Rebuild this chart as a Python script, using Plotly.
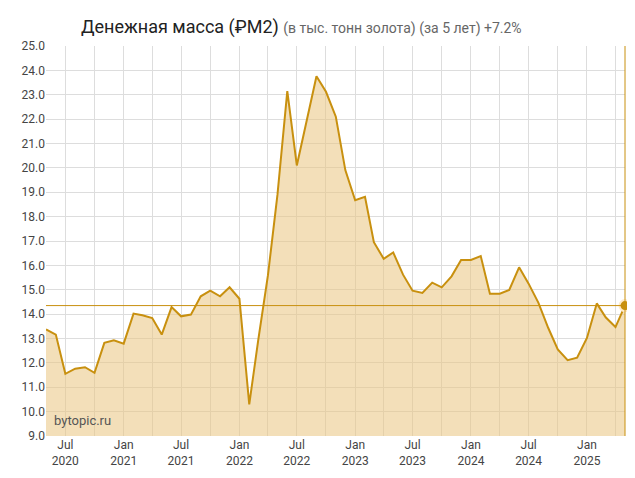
import pandas as pd
import plotly.graph_objects as go

# monthly values, May 2020 .. May 2025 (thousand tonnes of gold)
months = pd.date_range('2020-05-01', '2025-05-01', freq='MS')
values = [13.37, 13.16, 11.55, 11.76, 11.82, 11.59, 12.82, 12.93,
          12.79, 14.02, 13.95, 13.84, 13.16, 14.29, 13.91, 13.98, 14.73, 14.96, 14.73, 15.10,
          14.63, 10.30, 12.90, 15.60, 18.90, 23.15, 20.10, 22.00, 23.76, 23.12, 22.10, 19.91,
          18.67, 18.81, 16.95, 16.27, 16.53, 15.62, 14.96, 14.87, 15.29, 15.10, 15.55, 16.22,
          16.22, 16.38, 14.84, 14.84, 14.99, 15.92, 15.25, 14.46, 13.43, 12.55, 12.11, 12.21,
          13.02, 14.44, 13.87, 13.47, 14.35]
tick_dates = pd.date_range('2020-07-01', '2025-01-01', freq='6MS')
tick_text = [f"{'Jan' if d.month == 1 else 'Jul'}<br>{d.year}" for d in tick_dates]
y_ticks = [9 + i for i in range(17)]

line_color = '#c8900f'

fig = go.Figure()
fig.add_trace(go.Scatter(x=months, y=values, mode='lines', fill='tozeroy',
                         line=dict(color=line_color, width=2),
                         fillcolor='rgba(233,196,128,0.55)', hoverinfo='x+y'))
fig.add_hline(y=values[-1], line=dict(color=line_color, width=1))
fig.add_shape(type='line', xref='paper', yref='paper', x0=1, x1=1, y0=0, y1=1,
              line=dict(color=line_color, width=1))
fig.add_trace(go.Scatter(x=[months[-1]], y=[values[-1]], mode='markers', cliponaxis=False,
                         marker=dict(size=11, color=line_color,
                                     line=dict(color='rgba(255,235,200,1)', width=2))))

fig.update_layout(
    width=635, height=478, showlegend=False,
    margin=dict(l=38, r=18, t=38, b=50),
    plot_bgcolor='white', paper_bgcolor='white',
    font=dict(family='Roboto, Arial', color='#333'),
    title=dict(text="Денежная масса (₽M2) <span style='font-size:14px;color:#666'>(в тыс. тонн золота) (за 5 лет) +7.2%</span>",
               x=0.115, xanchor='left', y=0.975, font=dict(size=18, color='#222')),
    annotations=[dict(text='bytopic.ru', xref='paper', yref='paper', x=0.01, y=0.015,
                      xanchor='left', yanchor='bottom', showarrow=False,
                      font=dict(size=13, color='#555'))],
)
fig.update_xaxes(range=[months[0], months[-1]], tickvals=tick_dates, ticktext=tick_text,
                 showgrid=True, gridcolor='#dddddd', tickfont=dict(size=12, color='#444'),
                 minor=dict(dtick='M3', tick0='2020-04-01', showgrid=True, gridcolor='#dddddd'),
                 zeroline=False, ticks='')
fig.update_yaxes(range=[9, 25], tickvals=y_ticks, tickformat='.1f', showgrid=True,
                 gridcolor='#dddddd', tickfont=dict(size=12, color='#444'), zeroline=False)

fig.write_html("out.html")
